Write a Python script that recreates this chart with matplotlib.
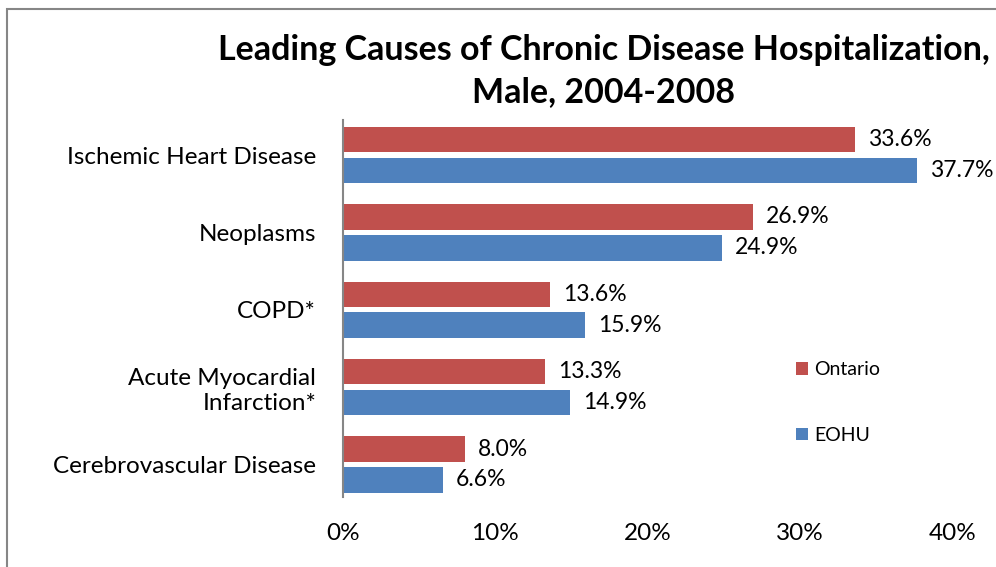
import numpy as np
import matplotlib.pyplot as plt
from matplotlib.patches import Rectangle

# 数据
categories = ["Ischemic Heart Disease", "Neoplasms", "COPD*",
              "Acute Myocardial\nInfarction*", "Cerebrovascular Disease"]
ontario = [33.6, 26.9, 13.6, 13.3, 8.0]
eohu = [37.7, 24.9, 15.9, 14.9, 6.6]
xticks = [0, 10, 20, 30, 40]
xtick_labels = ["0%", "10%", "20%", "30%", "40%"]

RED = "#C0504D"
BLUE = "#4F81BD"

plt.rcParams['font.family'] = ['Lato', 'DejaVu Sans']

fig = plt.figure(figsize=(9.96, 5.67), dpi=100)
ax = fig.add_axes([0.344, 0.1235, 0.612, 0.6645])

y = np.arange(len(categories))
h = 0.33
ax.barh(y - 0.2, ontario, height=h, color=RED, label="Ontario")
ax.barh(y + 0.2, eohu, height=h, color=BLUE, label="EOHU")

# 数据标签
for yi, v in zip(y, ontario):
    ax.text(v + 0.85, yi - 0.2, f"{v:.1f}%", va='center', ha='left', fontsize=16.5)
for yi, v in zip(y, eohu):
    ax.text(v + 0.85, yi + 0.2, f"{v:.1f}%", va='center', ha='left', fontsize=16.5)

ax.set_xlim(0, 40)
ax.set_ylim(4.42, -0.45)
ax.set_xticks(xticks)
ax.set_xticklabels(xtick_labels, fontsize=17.5)
ax.set_yticks(y)
ax.set_yticklabels(categories, fontsize=17.5, multialignment='right')
ax.tick_params(axis='x', length=0, pad=19)
ax.tick_params(axis='y', length=0, pad=19)
for s in ['top', 'right', 'bottom']:
    ax.spines[s].set_visible(False)
ax.spines['left'].set_color('#868686')
ax.spines['left'].set_linewidth(1.5)

leg = fig.legend(loc='center left', bbox_to_anchor=(0.782, 0.29), frameon=False,
                 fontsize=14, handlelength=0.6, handleheight=0.6, handletextpad=0.3,
                 labelspacing=2.5)

fig.text(0.606, 0.875, "Leading Causes of Chronic Disease Hospitalization,\nMale, 2004-2008",
         ha='center', va='center', fontsize=24.5, fontweight='bold', linespacing=1.4)

# 外框
fig.patches.append(Rectangle((0.007, -0.1), 1.1, 1.084, transform=fig.transFigure,
                             fill=False, edgecolor='#868686', linewidth=1.5))

fig.savefig("out.png", dpi=100)
